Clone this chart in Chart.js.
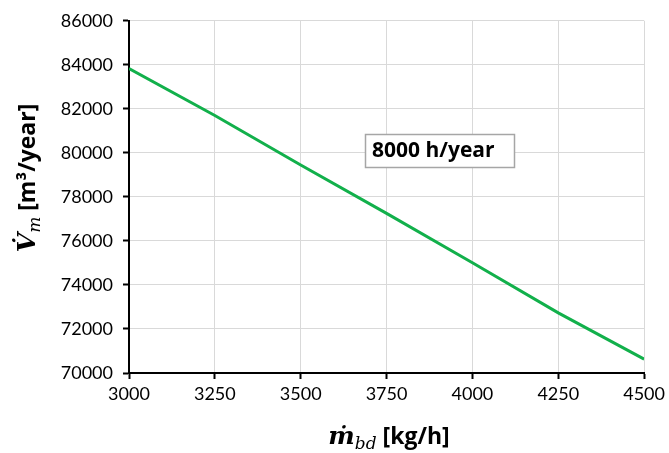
<!DOCTYPE html>
<html>
<head>
<meta charset="utf-8">
<script src="https://cdn.jsdelivr.net/npm/chart.js@4"></script>
<style>
  html, body { margin: 0; padding: 0; background: #fff; }
  #wrap { width: 669px; height: 453px; }
</style>
</head>
<body>
<div id="wrap"><canvas id="grafico"></canvas></div>
<script>
// flow rate of blowdown [kg/h] vs makeup volume [m3/year]
const caudal = [3000, 3250, 3500, 3750, 4000, 4250, 4500];
const volumen = [83830, 81700, 79450, 77250, 75010, 72730, 70630];
const xTicks = [3000, 3250, 3500, 3750, 4000, 4250, 4500];
const yTicks = [70000, 72000, 74000, 76000, 78000, 80000, 82000, 84000, 86000];
const etiqueta = '8000 h/year';

const fuenteTicks = { family: 'Lato', size: 18 };

// draws the axis titles (with italic/subscript parts) and the text box
const textos = {
  id: 'textos',
  afterDraw(chart) {
    const c = chart.ctx;

    function runs(partes, cx, cy, rot) {
      c.save();
      c.translate(cx, cy);
      if (rot) c.rotate(-Math.PI / 2);
      let total = 0;
      partes.forEach(p => { c.font = p.f; p.w = c.measureText(p.t).width; total += p.w; });
      let x = -total / 2;
      c.fillStyle = '#000';
      c.textBaseline = 'alphabetic';
      partes.forEach(p => {
        c.font = p.f;
        c.fillText(p.t, x, 8 + (p.dy || 0));
        x += p.w;
      });
      c.restore();
    }

    // x title
    runs([
      { t: 'ṁ', f: 'italic bold 25px "DejaVu Serif"' },
      { t: 'bd', f: 'italic 17px "DejaVu Serif"', dy: 5 },
      { t: ' [kg/h]', f: 'bold 23px "Open Sans"' }
    ], 389, 436, false);

    // y title
    runs([
      { t: 'V̇', f: 'italic bold 25px "DejaVu Serif"' },
      { t: 'm', f: 'italic 17px "DejaVu Serif"', dy: 5 },
      { t: ' [m³/year]', f: 'bold 23px "Open Sans"' }
    ], 27, 178, true);

    // annotation box
    c.save();
    c.font = 'bold 21px "Open Sans"';
    const w = 149, h = 33;
    const bx = 365, by = 134;
    c.fillStyle = '#fff';
    c.fillRect(bx, by, w, h);
    c.strokeStyle = '#a6a6a6';
    c.lineWidth = 1.5;
    c.strokeRect(bx + 0.5, by + 0.5, w, h);
    c.fillStyle = '#000';
    c.textBaseline = 'middle';
    c.fillText(etiqueta, bx + 7, by + h / 2 + 1);
    c.restore();
  }
};

const ctx = document.getElementById('grafico');

new Chart(ctx, {
  type: 'line',
  data: {
    datasets: [{
      data: caudal.map((x, i) => ({ x: x, y: volumen[i] })),
      borderColor: '#12b04b',
      borderWidth: 3,
      pointRadius: 0,
      tension: 0,
      fill: false
    }]
  },
  options: {
    responsive: true,
    maintainAspectRatio: false,
    animation: false,
    layout: { padding: { left: 0, right: 24, top: 17, bottom: 0 } },
    plugins: {
      legend: { display: false },
      tooltip: { enabled: false }
    },
    scales: {
      x: {
        type: 'linear',
        min: 3000,
        max: 4500,
        afterBuildTicks: s => { s.ticks = xTicks.map(v => ({ value: v })); },
        afterFit: s => { s.height = 80; },
        ticks: {
          color: '#000',
          font: fuenteTicks,
          padding: 4,
          maxRotation: 0,
          callback: v => v
        },
        grid: {
          color: '#d9d9d9',
          lineWidth: 1,
          tickColor: '#000',
          tickLength: 6,
          tickWidth: 2
        },
        border: { color: '#000', width: 2 }
      },
      y: {
        min: 70000,
        max: 86000,
        afterBuildTicks: s => { s.ticks = yTicks.map(v => ({ value: v })); },
        afterFit: s => { s.width = 129; },
        ticks: {
          color: '#000',
          font: fuenteTicks,
          padding: 10,
          callback: v => v
        },
        grid: {
          color: '#d9d9d9',
          lineWidth: 1,
          tickColor: '#000',
          tickLength: 6,
          tickWidth: 2
        },
        border: { color: '#000', width: 2 }
      }
    }
  },
  plugins: [textos]
});
</script>
</body>
</html>
